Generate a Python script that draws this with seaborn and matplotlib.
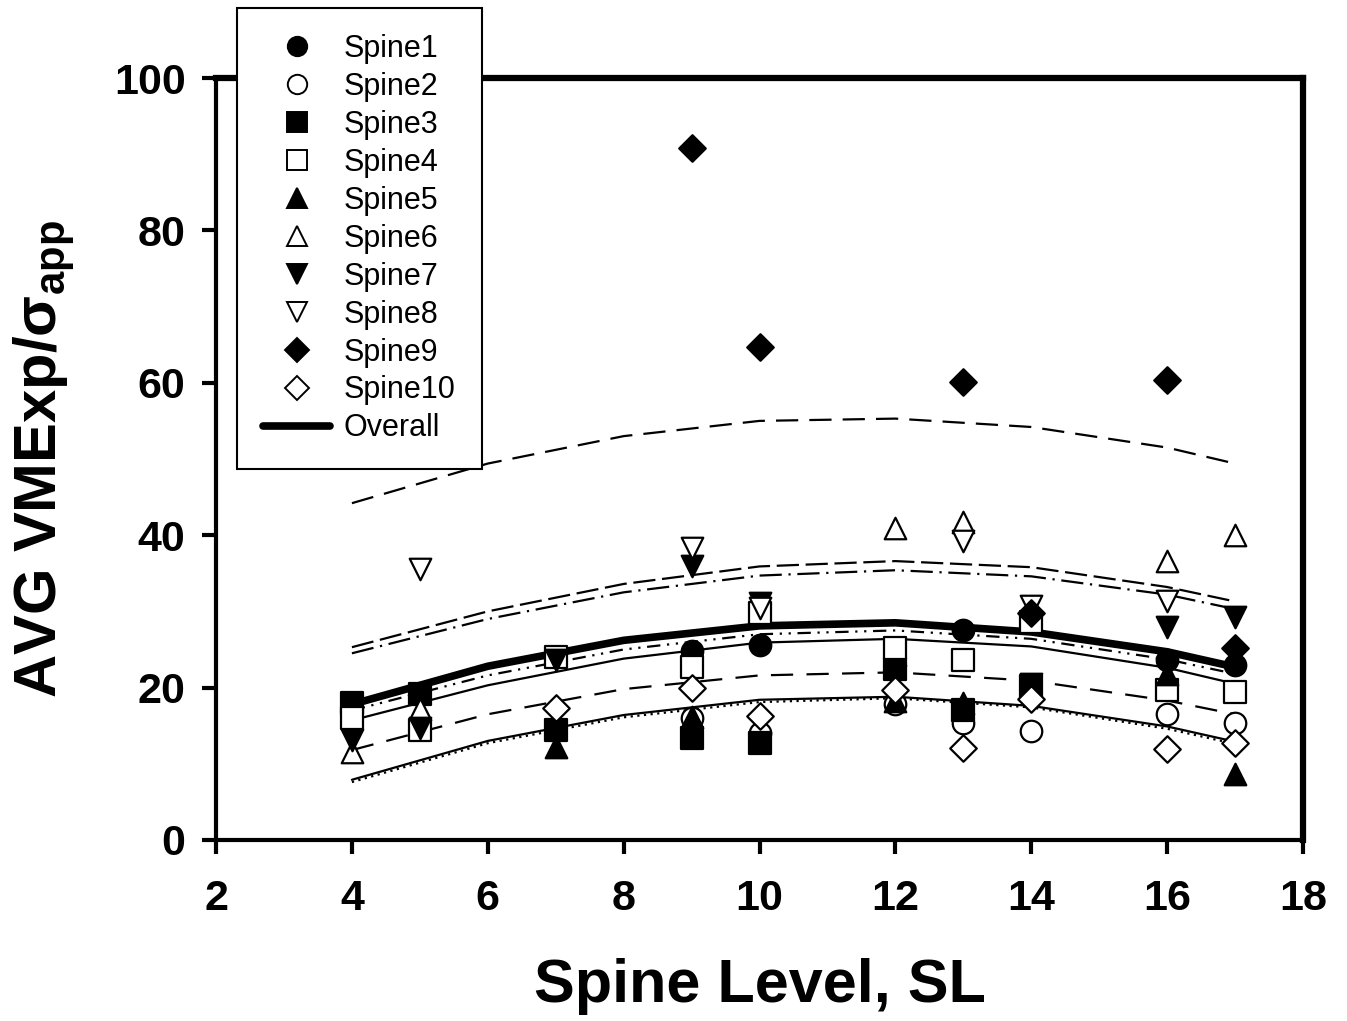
import matplotlib
matplotlib.use('Agg')
import matplotlib.pyplot as plt
import seaborn as sns
from matplotlib.lines import Line2D

# --- measured points per spine (spine level, AVG VMExp/sigma_app) ---
spine1_x = [9, 10, 13, 16, 17]
spine1_y = [24.8, 25.6, 27.6, 23.6, 23.0]
spine2_x = [9, 10, 12, 13, 14, 16, 17]
spine2_y = [16.0, 14.0, 17.8, 15.4, 14.3, 16.5, 15.3]
spine3_x = [4, 5, 7, 9, 10, 12, 13, 14]
spine3_y = [18.0, 19.2, 14.4, 13.4, 12.7, 22.5, 17.1, 20.2]
spine4_x = [4, 5, 7, 9, 10, 12, 13, 14, 16, 17]
spine4_y = [16.0, 14.4, 24.0, 22.7, 29.8, 25.2, 23.6, 28.6, 19.7, 19.4]
spine5_x = [7, 9, 12, 13, 16, 17]
spine5_y = [12.2, 16.1, 18.3, 18.0, 21.8, 8.7]
spine6_x = [4, 5, 12, 13, 16, 17]
spine6_y = [11.5, 17.2, 41.0, 41.7, 36.6, 40.0]
spine7_x = [4, 5, 7, 9, 10, 12, 14, 16, 17]
spine7_y = [13.1, 14.7, 23.6, 36.0, 31.1, 21.5, 20.5, 28.0, 29.3]
spine8_x = [5, 9, 10, 13, 14, 16]
spine8_y = [35.6, 38.3, 30.4, 39.2, 30.7, 31.4]
spine9_x = [9, 10, 13, 14, 16, 17]
spine9_y = [90.8, 64.7, 60.1, 29.8, 60.4, 25.2]
spine10_x = [7, 9, 10, 12, 13, 14, 16, 17]
spine10_y = [17.3, 20.0, 16.3, 19.7, 12.1, 18.5, 12.0, 12.7]

# --- fitted curves ---
curve_x = [4, 6, 8, 10, 12, 14, 16, 17]
overall_y = [17.8, 22.8, 26.2, 28.1, 28.5, 27.3, 24.7, 22.7]
fit_top_dash = [44.2, 49.4, 53.0, 55.0, 55.3, 54.2, 51.5, 49.4]
fit_mid_dash = [25.3, 30.0, 33.6, 35.9, 36.6, 35.8, 33.2, 31.3]
fit_mid_dashdot = [24.5, 29.0, 32.5, 34.7, 35.4, 34.6, 32.2, 30.3]
fit_dashdotdot = [17.0, 21.6, 25.0, 27.0, 27.5, 26.4, 23.7, 21.8]
fit_thin_solid = [15.7, 20.3, 23.8, 25.9, 26.4, 25.4, 22.6, 20.5]
fit_long_dash = [11.8, 16.5, 19.8, 21.6, 22.0, 20.9, 18.3, 16.5]
fit_low_solid = [7.9, 13.0, 16.4, 18.4, 18.8, 17.6, 14.9, 12.9]
fit_low_dot = [7.6, 12.7, 16.1, 18.1, 18.6, 17.4, 14.6, 12.6]

spines = [
    ('Spine1', spine1_x, spine1_y, 'o', 'black'),
    ('Spine2', spine2_x, spine2_y, 'o', 'white'),
    ('Spine3', spine3_x, spine3_y, 's', 'black'),
    ('Spine4', spine4_x, spine4_y, 's', 'white'),
    ('Spine5', spine5_x, spine5_y, '^', 'black'),
    ('Spine6', spine6_x, spine6_y, '^', 'white'),
    ('Spine7', spine7_x, spine7_y, 'v', 'black'),
    ('Spine8', spine8_x, spine8_y, 'v', 'white'),
    ('Spine9', spine9_x, spine9_y, 'D', 'black'),
    ('Spine10', spine10_x, spine10_y, 'D', 'white'),
]

fits = [
    (fit_top_dash, (10, 5)),
    (fit_mid_dash, (10, 3)),
    (fit_mid_dashdot, (10, 3, 1, 3)),
    (fit_dashdotdot, (6, 3, 1, 3, 1, 3)),
    (fit_thin_solid, None),
    (fit_long_dash, (10, 6)),
    (fit_low_solid, None),
    (fit_low_dot, (1, 2)),
]

sns.set_style('ticks')
plt.rcParams['font.family'] = ['Liberation Sans', 'DejaVu Sans']
plt.rcParams['mathtext.fontset'] = 'custom'
plt.rcParams['mathtext.rm'] = 'Liberation Sans'
plt.rcParams['mathtext.bf'] = 'Liberation Sans:bold'
for key in ['text.color', 'axes.labelcolor', 'xtick.color', 'ytick.color',
            'axes.edgecolor']:
    plt.rcParams[key] = 'black'

fig = plt.figure(figsize=(13.47, 10.21), dpi=100)
ax = fig.add_axes([0.1604, 0.1773, 0.8069, 0.7463])

for ys, dash in fits:
    sns.lineplot(x=curve_x, y=ys, ax=ax, color='black', lw=1.6, zorder=2)
    if dash is not None:
        ax.lines[-1].set_dashes(dash)

sns.lineplot(x=curve_x, y=overall_y, ax=ax, color='black', lw=5.5, zorder=3)
ax.lines[-1].set_solid_capstyle('round')

handles = []
for name, xs, ys, mk, fc in spines:
    ms = 15.5 if mk != 'D' else 13.5
    sns.scatterplot(x=xs, y=ys, ax=ax, marker=mk, s=ms ** 2, color=fc,
                    edgecolor='black', linewidth=1.6, zorder=4, legend=False)
    handles.append(Line2D([], [], ls='none', marker=mk, markersize=ms * 0.9,
                          markerfacecolor=fc, markeredgecolor='black',
                          markeredgewidth=1.4, label=name))
handles.append(Line2D([], [], color='black', lw=5.5, solid_capstyle='round',
                      label='Overall'))

ax.set_xlim(2, 18)
ax.set_ylim(0, 100)
ax.set_xticks(range(2, 19, 2))
ax.set_yticks(range(0, 101, 20))
ax.tick_params(direction='out', length=10, width=3, labelsize=31)
ax.tick_params(axis='x', pad=18)
ax.tick_params(axis='y', pad=12)
for lab in ax.get_xticklabels() + ax.get_yticklabels():
    lab.set_fontweight('bold')
for side in ['left', 'bottom']:
    ax.spines[side].set_linewidth(3)
for side in ['top', 'right']:
    ax.spines[side].set_linewidth(4.5)
ax.spines['top'].set_visible(True)
ax.spines['right'].set_visible(True)

ax.set_xlabel('Spine Level, SL', fontsize=44, fontweight='bold', labelpad=28)
ax.set_ylabel(r'AVG VMExp/σ$_{\mathbf{app}}$', fontsize=43, fontweight='bold',
              labelpad=26)

leg = fig.legend(handles=handles, loc='upper left',
                 bbox_to_anchor=(237 / 1347, 1 - 8 / 1021), fontsize=22,
                 borderaxespad=0, frameon=True, fancybox=False,
                 edgecolor='black', framealpha=1, handlelength=2.2,
                 handletextpad=0.45, labelspacing=0.26, borderpad=0.85)
leg.get_frame().set_linewidth(1.5)
leg.set_zorder(10)

fig.savefig('out.png', dpi=100)
